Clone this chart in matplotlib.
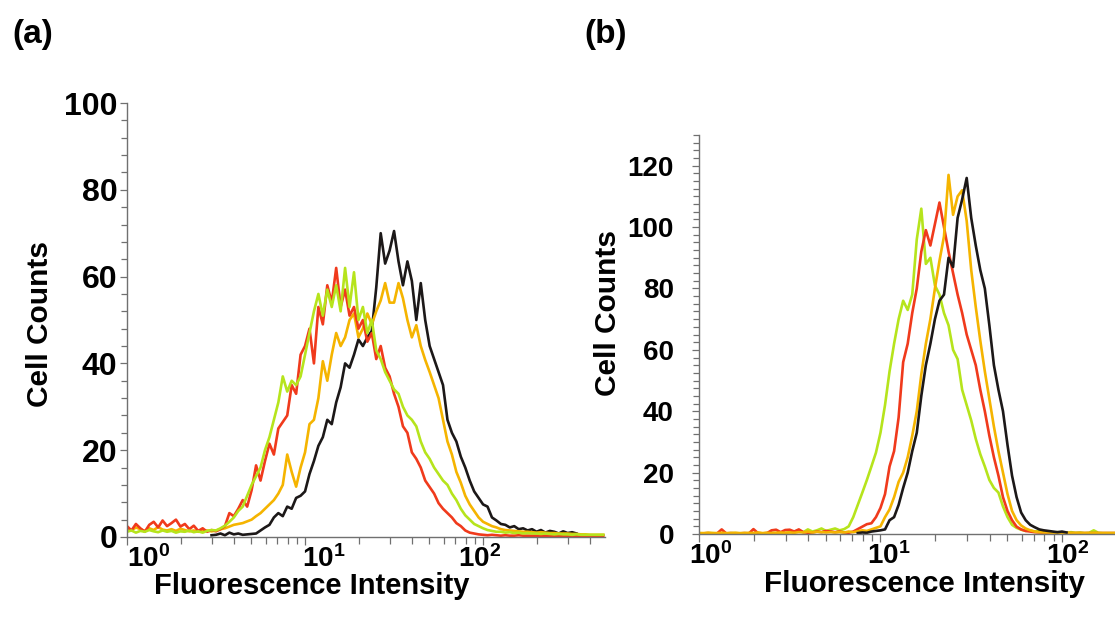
import numpy as np
import matplotlib
matplotlib.use("Agg")
import matplotlib.pyplot as plt
from matplotlib.ticker import MultipleLocator, LogLocator, NullFormatter, FixedLocator, FixedFormatter
from matplotlib.transforms import ScaledTranslation

plt.rcParams['font.family'] = ['Liberation Sans', 'DejaVu Sans']
plt.rcParams['font.weight'] = 'bold'
plt.rcParams['mathtext.fontset'] = 'custom'
plt.rcParams['mathtext.rm'] = 'Liberation Sans:bold'
plt.rcParams['mathtext.bf'] = 'Liberation Sans:bold'
plt.rcParams['mathtext.default'] = 'bf'

# histogram channels (log10 of intensity, 0.025 decade per channel)
chan_a = 10 ** (np.arange(108) * 0.025)
chan_b = 10 ** (np.arange(93) * 0.025)

nan = np.nan

# ---- panel (a) counts per channel ----
red_a = [2.5, 1.5, 3.0, 2.0, 1.2, 2.8, 3.5, 2.2, 3.8, 2.5,
         3.2, 4.0, 2.4, 3.0, 1.8, 2.6, 1.4, 2.0, 1.2, 1.6,
         1.3, 1.8, 2.5, 5.5, 4.8, 6.5, 8.5, 7.0, 10.8, 16.5,
         13.0, 17.5, 21.5, 19.0, 25.0, 26.5, 28.0, 35.0, 33.0, 42.0,
         44.0, 48.0, 40.0, 53.0, 49.0, 58.0, 54.0, 62.0, 53.0, 57.0,
         51.0, 53.0, 48.0, 50.0, 45.0, 47.0, 41.0, 44.0, 39.0, 37.0,
         33.0, 30.0, 25.5, 24.0, 19.5, 18.0, 16.0, 13.0, 11.5, 10.0,
         7.8, 6.5, 5.5, 4.5, 3.2, 2.5, 1.5, 1.0, 0.8, 0.6,
         0.5, 0.4, 0.5, 0.4, 0.3, 0.4, 0.3, 0.3, 0.4, 0.3,
         0.3, 0.3, 0.3, 0.3, 0.3, 0.3, 0.3, 0.3, 0.3, 0.3,
         0.3, 0.3, 0.3, 0.3, 0.3, 0.3, 0.3, 0.3]

green_a = [1.2, 1.5, 1.0, 1.4, 1.2, 1.6, 1.3, 1.1, 1.5, 1.2,
           1.4, 1.0, 1.3, 1.2, 1.5, 1.1, 1.3, 1.0, 1.4, 1.6,
           1.5, 2.0, 2.6, 3.5, 4.5, 6.0, 7.0, 9.5, 12.0, 14.0,
           16.0, 20.0, 23.0, 27.0, 31.0, 37.0, 33.5, 36.0, 35.0, 37.0,
           42.0, 47.0, 52.0, 56.0, 51.0, 57.0, 53.0, 58.0, 52.0, 62.0,
           53.0, 61.0, 50.0, 53.0, 47.0, 50.0, 43.0, 41.0, 38.0, 36.0,
           34.0, 33.0, 30.0, 28.0, 27.0, 25.5, 22.0, 19.5, 18.0, 16.0,
           14.5, 13.0, 12.0, 10.0, 8.5, 6.5, 5.0, 4.0, 3.0, 2.5,
           2.0, 1.6, 1.4, 1.2, 1.2, 1.0, 1.1, 0.9, 1.0, 0.8,
           0.9, 0.8, 0.8, 0.7, 0.8, 0.7, 0.6, 0.7, 0.6, 0.6,
           0.5, 0.6, 0.5, 0.5, 0.5, 0.5, 0.5, 0.5]

yellow_a = [2.0, 1.5, 2.2, 1.8, 1.4, 2.0, 1.6, 2.3, 1.7, 1.5,
            1.8, 1.4, 1.9, 1.6, 1.3, 1.5, 1.2, 1.4, 1.5, 1.3,
            1.5, 1.8, 2.0, 2.4, 2.8, 3.0, 3.2, 3.6, 4.0, 4.8,
            5.5, 6.5, 7.5, 8.5, 10.0, 12.0, 19.0, 15.0, 11.6, 16.0,
            19.5, 26.0, 27.0, 32.0, 40.5, 36.0, 42.0, 47.0, 44.0, 46.0,
            50.0, 51.5, 46.0, 48.0, 51.5, 49.0, 52.0, 54.5, 58.5, 54.0,
            54.0, 58.5, 55.0, 50.0, 46.0, 48.8, 44.0, 40.8, 38.0, 35.0,
            32.0, 27.0, 22.0, 19.0, 15.0, 12.5, 9.5, 7.5, 6.0, 4.5,
            3.5, 3.0, 2.5, 2.2, 1.8, 1.6, 1.5, 1.4, 1.3, 1.2,
            1.2, 1.1, 1.0, 1.1, 1.0, 0.9, 0.9, 0.8, 0.8, 0.8,
            0.7, 0.7, 0.6, 0.6, 0.5, 0.5, 0.5, 0.5]

black_a = [nan] * 19 + [
           0.4,
           0.5, 0.8, 0.4, 1.0, 0.6, 0.8, 0.5, 0.6, 0.7, 0.8,
           1.5, 2.2, 2.8, 4.5, 5.5, 4.8, 7.0, 6.5, 9.0, 9.5,
           10.5, 14.5, 17.5, 21.0, 23.0, 27.0, 26.0, 31.0, 34.5, 40.0,
           39.0, 42.0, 45.5, 44.0, 46.0, 47.5, 57.5, 70.0, 63.0, 66.0,
           70.5, 63.5, 58.0, 63.5, 59.0, 50.0, 58.5, 50.0, 44.0, 41.0,
           38.0, 35.0, 27.0, 24.0, 22.0, 18.5, 16.0, 13.0, 10.5, 9.0,
           7.5, 7.0, 4.5, 3.8, 3.0, 2.8, 2.2, 2.5, 1.8, 2.0,
           1.5, 1.8, 1.2, 1.6, 1.0, 1.4, 1.2, 0.8, 1.3, 0.9,
           1.1, 0.8] + [nan] * 6

# ---- panel (b) counts per channel ----
green_b = [0.3, 0.2, 0.3, 0.3, 0.2, 0.3, 0.2, 0.3, 0.3, 0.2,
           0.3, 0.2, 0.3, 0.3, 0.2, 0.3, 0.4, 0.3, 0.5, 0.3,
           0.6, 0.8, 1.2, 0.6, 1.5, 0.8, 1.2, 1.8, 1.0, 1.4,
           1.8, 1.2, 1.6, 2.5, 5.5, 9.5, 13.5, 17.6, 22.0, 26.5,
           33.0, 42.0, 53.0, 62.0, 70.0, 76.0, 73.0, 78.0, 96.0, 106.0,
           88.0, 90.0, 81.0, 78.0, 72.0, 68.0, 60.0, 57.0, 47.0, 42.0,
           37.0, 31.0, 26.0, 22.0, 17.6, 15.0, 13.5, 9.0, 5.5, 3.0,
           2.0, 1.4, 1.0, 1.2, 0.8, 1.0, 0.6, 0.8, 0.5, 0.6,
           0.5, 0.4, 0.6, 0.4, 0.5, 0.3, 0.4, 1.2, 0.4, 0.3,
           0.3, 0.3, 0.3]

red_b = [0.2, 0.2, 0.3, 0.2, 0.2, 1.5, 0.2, 0.3, 0.2, 0.2,
         0.3, 0.2, 1.6, 0.3, 0.2, 0.3, 1.2, 1.4, 0.6, 1.3,
         1.4, 0.8, 1.5, 0.6, 0.4, 0.5, 0.8, 0.6, 1.0, 0.8,
         0.6, 0.8, 0.5, 0.4, 0.8, 1.6, 2.4, 3.2, 3.5, 5.5,
         8.5, 13.0, 22.0, 27.0, 38.0, 56.0, 62.0, 72.0, 80.0, 92.0,
         99.0, 94.0, 101.0, 108.0, 100.0, 92.0, 85.0, 78.0, 72.0, 65.0,
         60.0, 55.0, 47.0, 40.0, 32.0, 25.0, 19.0, 12.0, 7.5, 4.5,
         2.4, 1.5, 1.0, 0.8, 0.6, 0.5, 0.4, 0.4, 0.3, 0.3,
         0.3, 0.3, 0.3, 0.3, 0.3, 0.3, 0.3, 0.3, 0.3, 0.3,
         0.3, 0.3, 0.3]

yellow_b = [0.3, 0.3, 0.4, 0.3, 0.3, 0.4, 0.3, 0.3, 0.4, 0.3,
            0.3, 0.4, 0.3, 0.5, 0.3, 0.4, 0.3, 0.4, 0.5, 0.4,
            0.5, 0.4, 0.6, 0.5, 0.8, 0.5, 0.7, 0.6, 0.5, 0.6,
            0.5, 0.6, 0.5, 0.8, 0.6, 0.9, 1.2, 1.0, 1.5, 2.0,
            2.5, 5.5, 8.0, 12.0, 17.0, 20.0, 25.0, 32.0, 40.0, 52.0,
            62.0, 70.0, 80.0, 89.0, 97.0, 117.0, 104.0, 110.0, 112.0, 102.0,
            86.0, 74.0, 63.0, 53.0, 44.0, 35.0, 27.0, 20.0, 13.0, 7.5,
            4.5, 2.8, 1.8, 1.2, 0.8, 0.6, 0.5, 0.5, 0.4, 0.4,
            0.3, 0.3, 0.3, 0.3, 0.3, 0.3, 0.3, 0.3, 0.3, 0.3,
            0.3, 0.3, 0.3]

black_b = [nan] * 35 + [
           0.3, 0.5, 0.4, 0.8, 1.0,
           1.2, 1.5, 4.5, 5.5, 9.5, 15.0, 20.0, 27.0, 33.0, 45.0,
           55.0, 62.0, 70.0, 76.0, 78.0, 90.0, 87.0, 103.0, 109.0, 116.0,
           103.0, 94.0, 86.0, 80.0, 68.0, 55.0, 47.0, 40.0, 29.0, 19.0,
           12.0, 7.0, 4.5, 3.0, 2.2, 1.5, 1.2, 1.0, 0.8, 0.6,
           0.8, 0.5] + [nan] * 11

c_red = '#f03a1c'
c_yellow = '#f5b400'
c_green = '#b6e41c'
c_black = '#1c1818'
lw = 1.9
axis_gray = '#707070'

fig = plt.figure(figsize=(11.15, 6.19), dpi=100)
ax_a = fig.add_axes([0.1139, 0.1325, 0.4287, 0.7011])
ax_b = fig.add_axes([0.6269, 0.1373, 0.3731, 0.6446])

ax_a.plot(chan_a, black_a, color=c_black, lw=lw)
ax_a.plot(chan_a, yellow_a, color=c_yellow, lw=lw)
ax_a.plot(chan_a, red_a, color=c_red, lw=lw)
ax_a.plot(chan_a, green_a, color=c_green, lw=lw)

ax_b.plot(chan_b, green_b, color=c_green, lw=lw)
ax_b.plot(chan_b, red_b, color=c_red, lw=lw)
ax_b.plot(chan_b, yellow_b, color=c_yellow, lw=lw)
ax_b.plot(chan_b, black_b, color=c_black, lw=lw)

panels = [(ax_a, 484, 100, 4, 2, 23, [22, 19, -4]),
          (ax_b, 196, 130, 2.5, 13, 20, [12, 8, 6])]
for ax, xmax, ymax, yminor, ypad, ysize, xshift in panels:
    ax.set_xscale('log')
    ax.set_xlim(1, xmax)
    ax.set_ylim(0, ymax)
    for s in ['top', 'right']:
        ax.spines[s].set_visible(False)
    for s in ['left', 'bottom']:
        ax.spines[s].set_color(axis_gray)
        ax.spines[s].set_linewidth(1.0)
    ax.xaxis.set_major_locator(FixedLocator([1, 10, 100]))
    ax.xaxis.set_major_formatter(FixedFormatter([r'$10^{0}$', r'$10^{1}$', r'$10^{2}$']))
    ax.xaxis.set_minor_locator(LogLocator(base=10, subs=range(2, 10)))
    ax.xaxis.set_minor_formatter(NullFormatter())
    ax.yaxis.set_major_locator(MultipleLocator(20))
    ax.yaxis.set_minor_locator(MultipleLocator(yminor))
    ax.tick_params(axis='both', which='both', direction='out', color=axis_gray, width=0.9)
    ax.tick_params(axis='x', which='major', length=6, labelsize=20, pad=0)
    ax.tick_params(axis='x', which='minor', length=5)
    ax.tick_params(axis='y', which='major', length=5, labelsize=ysize, pad=ypad)
    ax.tick_params(axis='y', which='minor', length=4)
    # nudge the decade labels sideways
    for tick, dx in zip(ax.xaxis.get_major_ticks(), xshift):
        tick.label1.set_transform(tick.label1.get_transform()
                                  + ScaledTranslation(dx / 100, 0, fig.dpi_scale_trans))

ax_a.set_ylabel('Cell Counts', fontsize=21.5, fontweight='bold', va='center')
ax_a.yaxis.set_label_coords(-0.182, 0.49)
ax_a.set_xlabel('Fluorescence Intensity', fontsize=21, fontweight='bold', va='center')
ax_a.xaxis.set_label_coords(0.387, -0.113)

ax_b.set_ylabel('Cell Counts', fontsize=21.5, fontweight='bold', va='center')
ax_b.yaxis.set_label_coords(-0.219, 0.554)
ax_b.set_xlabel('Fluorescence Intensity', fontsize=21.3, fontweight='bold', va='center')
ax_b.xaxis.set_label_coords(0.543, -0.125)

fig.text(12 / 1115, 1 - 35 / 619, '(a)', fontsize=24, fontweight='bold', ha='left', va='center')
fig.text(584 / 1115, 1 - 35 / 619, '(b)', fontsize=24, fontweight='bold', ha='left', va='center')

plt.savefig('out.png', dpi=100)
